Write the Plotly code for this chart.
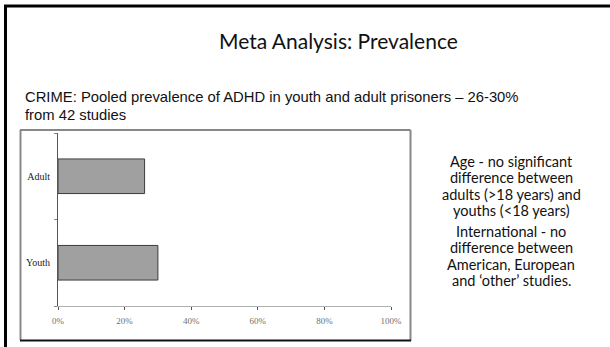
import plotly.graph_objects as go

categories = ["Youth", "Adult"]
prevalence = [30, 26]
tick_vals = [0, 20, 40, 60, 80, 100]
tick_text = ["0%", "20%", "40%", "60%", "80%", "100%"]

title_text = "Meta Analysis: Prevalence"
subtitle_lines = [
    "CRIME: Pooled prevalence of ADHD in youth and adult prisoners \u2013 26-30%",
    "from 42 studies",
]
side_para1 = ["Age - no significant", "difference between",
              "adults (>18 years) and", "youths (<18 years)"]
side_para2 = ["International - no", "difference between",
              "American, European", "and \u2018other\u2019 studies."]

W, H = 610, 347
PX0, PX1 = 58, 391
PY0, PY1 = 133, 306

fig = go.Figure()
fig.add_trace(go.Bar(
    y=categories, x=prevalence, orientation="h", width=0.4,
    marker=dict(color="#a0a0a0", line=dict(color="#3c3c3c", width=1)),
    hoverinfo="skip", xaxis="x", yaxis="y",
))

frame = [
    ([5.5, 5.5], [5, 347], "#000", 3),
    ([4, 610], [6, 6], "#000", 3),
    ([20, 410.5], [130, 130], "#111", 1.2),
    ([20.5, 20.5], [130, 340], "#888", 2),
    ([410.5, 410.5], [130, 341], "#888", 2),
    ([20, 411], [340.5, 340.5], "#111", 2),
]
for xs, ys, col, w in frame:
    fig.add_trace(go.Scatter(x=xs, y=ys, mode="lines", line=dict(color=col, width=w),
                             xaxis="x2", yaxis="y2", hoverinfo="skip", cliponaxis=False))

annotations = []
annotations.append(dict(text=title_text, x=338, y=40, xref="x2", yref="y2",
                        showarrow=False, xanchor="center", yanchor="middle",
                        font=dict(family="Lato", size=21, color="#111")))
for i, line in enumerate(subtitle_lines):
    annotations.append(dict(text=line, x=23, y=97 + 18 * i, xref="x2", yref="y2",
                            showarrow=False, xanchor="left", yanchor="middle",
                            font=dict(family="Liberation Sans", size=14.8, color="#111")))
ys1 = [161, 177.5, 194, 210.5]
ys2 = [231, 247.5, 264, 280.5]
for lines, ys in ((side_para1, ys1), (side_para2, ys2)):
    for line, yy in zip(lines, ys):
        annotations.append(dict(text=line, x=511, y=yy, xref="x2", yref="y2",
                                showarrow=False, xanchor="center", yanchor="middle",
                                borderpad=0,
                                font=dict(family="Lato", size=14.5, color="#111")))

fig.update_layout(
    width=W, height=H, autosize=False,
    margin=dict(l=0, r=0, t=0, b=0, pad=0, autoexpand=False),
    paper_bgcolor="white", plot_bgcolor="rgba(0,0,0,0)", showlegend=False,
    annotations=annotations,
    xaxis=dict(domain=[PX0 / W, PX1 / W], range=[0, 100], tickvals=tick_vals, ticktext=tick_text,
               showgrid=False, zeroline=False, showline=True, linecolor="#b0b0b0", linewidth=1,
               ticks="outside", ticklen=3, tickcolor="#555", tickwidth=1, automargin=False,
               tickfont=dict(family="Liberation Serif", size=9, color="#707070"),
               ticklabelstandoff=3, fixedrange=True),
    yaxis=dict(domain=[1 - PY1 / H, 1 - PY0 / H],
               categoryorder="array", categoryarray=categories, range=[-0.5, 1.5],
               showgrid=False, zeroline=False, showline=True, linecolor="#555", linewidth=1,
               ticks="outside", tickson="boundaries", ticklen=3, tickcolor="#888", automargin=False,
               tickfont=dict(family="Liberation Serif", size=10, color="#222"),
               ticklabelstandoff=5, fixedrange=True),
    xaxis2=dict(domain=[0, 1], range=[0, W], visible=False, anchor="y2", fixedrange=True,
                automargin=False),
    yaxis2=dict(domain=[0, 1], range=[H, 0], visible=False, anchor="x2", fixedrange=True,
                automargin=False),
)

fig.write_html("out.html", config={"displayModeBar": False, "responsive": False})
